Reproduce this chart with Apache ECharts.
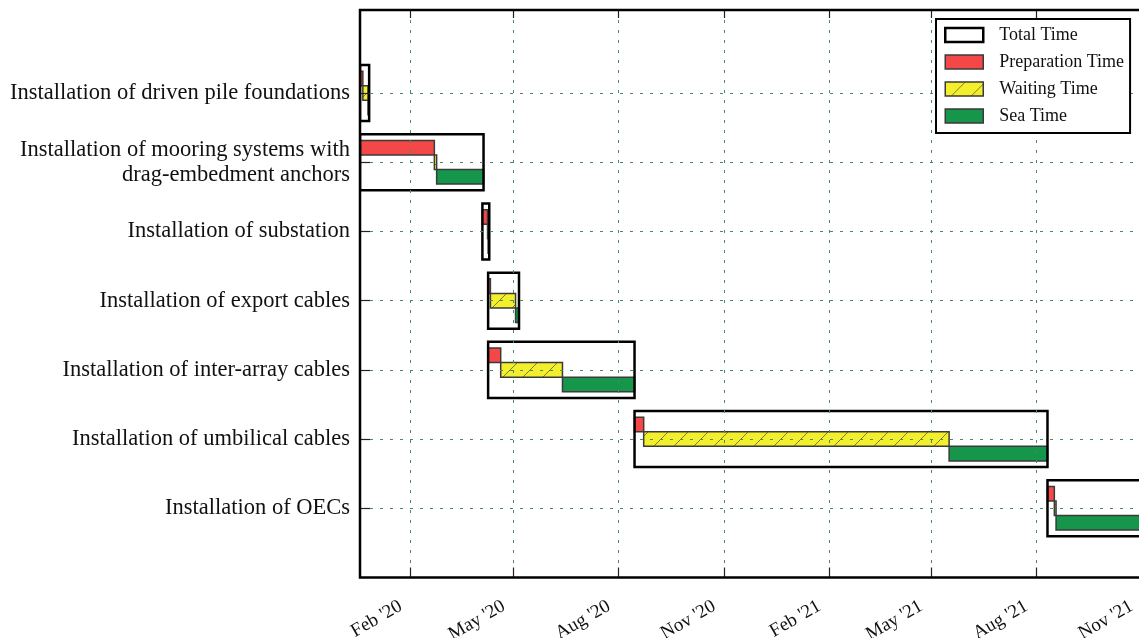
<!DOCTYPE html>
<html>
<head>
<meta charset="utf-8">
<script src="https://cdn.jsdelivr.net/npm/echarts@6/dist/echarts.min.js"></script>
<style>
html,body{margin:0;padding:0;background:#fff;}
#chart{width:1139px;height:638px;}
</style>
</head>
<body>
<div id="chart"></div>
<script>
// ---------- data ----------
const tasks = [
  'Installation of driven pile foundations',
  'Installation of mooring systems with\ndrag-embedment anchors',
  'Installation of substation',
  'Installation of export cables',
  'Installation of inter-array cables',
  'Installation of umbilical cables',
  'Installation of OECs'
];
const startDates = ['2019-12-19', '2019-12-19', '2020-04-04', '2020-04-09', '2020-04-09', '2020-08-15', '2021-08-11'];
const prepDays   = [2.5, 65, 4.5, 2, 11, 8, 6];
const waitDays   = [4.5, 2, 0.5, 22, 54, 267, 1.5];
const seaDays    = [1, 41, 1, 3, 63, 86, 90];
const tickDates  = ['2020-02-01', '2020-05-01', '2020-08-01', '2020-11-01', '2021-02-01', '2021-05-01', '2021-08-01', '2021-11-01'];
const tickLabels = ["Feb '20", "May '20", "Aug '20", "Nov '20", "Feb '21", "May '21", "Aug '21", "Nov '21"];
const axisMinDate = '2019-12-19';
const axisMaxDate = '2021-11-06';
const seriesNames = ['Total Time', 'Preparation Time', 'Waiting Time', 'Sea Time'];

// ---------- derived ----------
const DAY = 86400000;
const rowValues = tasks.map((t, i) => tasks.length - i);
const tickValues = tickDates.map(d => Date.parse(d));
const totalData = [], prepData = [], waitData = [], seaData = [];
tasks.forEach((t, i) => {
  const s = Date.parse(startDates[i]);
  const a = s + prepDays[i] * DAY;
  const b = a + waitDays[i] * DAY;
  const e = b + seaDays[i] * DAY;
  totalData.push([rowValues[i], s, e]);
  prepData.push([rowValues[i], s, a]);
  waitData.push([rowValues[i], a, b]);
  seaData.push([rowValues[i], b, e]);
});

// hatch pattern for waiting time
const tile = document.createElement('canvas');
tile.width = 20; tile.height = 20;
(function () {
  const c = tile.getContext('2d');
  c.fillStyle = '#f4ef2c';
  c.fillRect(0, 0, 20, 20);
  c.strokeStyle = 'rgba(90,90,20,0.75)';
  c.lineWidth = 1;
  c.beginPath();
  c.moveTo(0, 20); c.lineTo(20, 0);
  c.moveTo(-2, 2); c.lineTo(2, -2);
  c.moveTo(18, 22); c.lineTo(22, 18);
  c.stroke();
})();
const hatch = { image: tile, repeat: 'repeat' };

const styles = {
  total: { fill: 'none', stroke: '#000', lineWidth: 2.5, off: 0, h: 0.81 },
  prep:  { fill: '#f44848', stroke: '#3a3a3a', lineWidth: 1.5, off: -0.21, h: 0.21 },
  wait:  { fill: hatch, stroke: '#3a3a3a', lineWidth: 1.5, off: 0, h: 0.21 },
  sea:   { fill: '#16964a', stroke: '#3a3a3a', lineWidth: 1.5, off: 0.21, h: 0.21 }
};

function makeRender(kind) {
  const st = styles[kind];
  return function (params, api) {
    const row = api.value(0);
    const p0 = api.coord([api.value(1), row]);
    const p1 = api.coord([api.value(2), row]);
    const unit = api.size([0, 1])[1];
    const h = st.h * unit;
    const cy = p0[1] + st.off * unit;
    return {
      type: 'rect',
      shape: { x: p0[0], y: cy - h / 2, width: Math.max(p1[0] - p0[0], 0.5), height: h },
      style: { fill: st.fill, stroke: st.stroke, lineWidth: st.lineWidth }
    };
  };
}

const gridLine = { show: true, lineStyle: { color: '#4a8a62', width: 1, type: [3, 7] } };
const serif = 'Liberation Serif';

const chart = echarts.init(document.getElementById('chart'), null, { renderer: 'canvas' });
chart.setOption({
  animation: false,
  backgroundColor: '#fff',
  grid: {
    left: 360, top: 10, width: 787, bottom: 60.5,
    show: true, borderColor: '#000', borderWidth: 2.5, backgroundColor: 'transparent',
    z: 10, outerBoundsMode: 'none', containLabel: false
  },
  legend: {
    orient: 'vertical', left: 936, top: 19,
    padding: [7, 6, 8, 8],
    backgroundColor: '#fff', borderColor: '#000', borderWidth: 2,
    itemWidth: 38, itemHeight: 14, itemGap: 9,
    icon: 'rect',
    textStyle: { fontFamily: serif, fontSize: 18, color: '#111', padding: [0, 0, 0, 11] },
    data: [
      { name: 'Total Time', itemStyle: { color: '#fff', borderColor: '#000', borderWidth: 2.5 } },
      { name: 'Preparation Time', itemStyle: { color: '#f44848', borderColor: '#3a3a3a', borderWidth: 1.5 } },
      { name: 'Waiting Time', itemStyle: { color: hatch, borderColor: '#3a3a3a', borderWidth: 1.5 } },
      { name: 'Sea Time', itemStyle: { color: '#16964a', borderColor: '#3a3a3a', borderWidth: 1.5 } }
    ],
    z: 20
  },
  xAxis: [{
    type: 'value', position: 'bottom',
    min: Date.parse(axisMinDate), max: Date.parse(axisMaxDate),
    z: 5,
    axisLine: { show: false },
    axisTick: { show: true, inside: true, length: 10, customValues: tickValues, lineStyle: { color: '#222', width: 1.2 } },
    axisLabel: {
      customValues: tickValues, rotate: 30, margin: 22,
      fontFamily: serif, fontSize: 19, color: '#111', padding: [0, 11, 0, 0],
      formatter: v => tickLabels[tickValues.indexOf(v)] || ''
    },
    splitLine: gridLine
  }, {
    type: 'value', position: 'top',
    min: Date.parse(axisMinDate), max: Date.parse(axisMaxDate),
    z: 5,
    axisLine: { show: false },
    axisTick: { show: true, inside: true, length: 8, customValues: tickValues, lineStyle: { color: '#222', width: 1.2 } },
    axisLabel: { show: false },
    splitLine: { show: false }
  }],
  yAxis: {
    type: 'value', min: 0, max: 8.2, z: 5,
    axisLine: { show: false },
    axisTick: { show: true, inside: true, length: 10, customValues: rowValues, lineStyle: { color: '#222', width: 1.2 } },
    axisLabel: {
      customValues: rowValues, margin: 10,
      fontFamily: serif, fontSize: 22.5, color: '#111', lineHeight: 25, align: 'right',
      formatter: v => tasks[tasks.length - v] || ''
    },
    splitLine: gridLine
  },
  series: [
    { name: 'Total Time', type: 'custom', clip: true, renderItem: makeRender('total'), encode: { x: [1, 2], y: 0 },
      itemStyle: { color: '#fff', borderColor: '#000', borderWidth: 2.5 }, data: totalData, z: 3 },
    { name: 'Preparation Time', type: 'custom', clip: true, renderItem: makeRender('prep'), encode: { x: [1, 2], y: 0 },
      itemStyle: { color: '#f44848' }, data: prepData, z: 2 },
    { name: 'Waiting Time', type: 'custom', clip: true, renderItem: makeRender('wait'), encode: { x: [1, 2], y: 0 },
      itemStyle: { color: '#f4ef2c' }, data: waitData, z: 2 },
    { name: 'Sea Time', type: 'custom', clip: true, renderItem: makeRender('sea'), encode: { x: [1, 2], y: 0 },
      itemStyle: { color: '#16964a' }, data: seaData, z: 2 }
  ]
});
</script>
</body>
</html>
